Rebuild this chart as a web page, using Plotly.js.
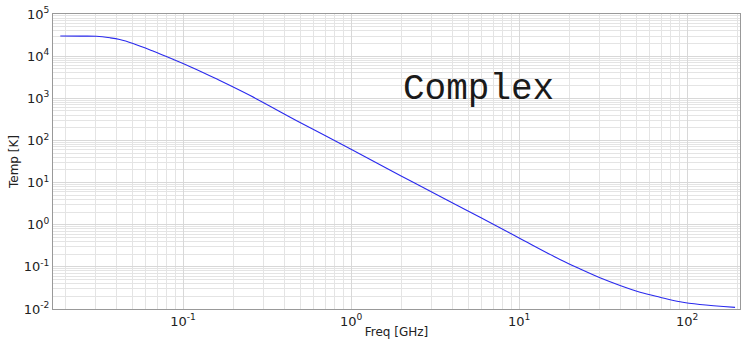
<!DOCTYPE html>
<html>
<head>
<meta charset="utf-8">
<script src="https://cdn.plot.ly/plotly-3.0.1.min.js"></script>
<style>html,body{margin:0;padding:0;background:#fff;}#chart{width:741px;height:340px;}</style>
</head>
<body>
<div id="chart"></div>
<script>
var freq = [0.0186, 0.0245, 0.0305, 0.0368, 0.042, 0.0504, 0.0662, 0.0871, 0.1148, 0.159, 0.251, 0.497, 1.0, 1.96, 3.72, 5.86, 10, 17.5, 23.1, 30.3, 39.9, 52.5, 69, 90.8, 119, 193];
var temp = [30000, 29900, 29600, 27200, 24800, 19950, 13200, 8410, 5250, 2850, 1160, 267, 62, 14.8, 3.87, 1.50, 0.485, 0.150, 0.089, 0.0551, 0.0362, 0.0251, 0.0191, 0.0149, 0.0128, 0.0109];
var xTickVals = [0.1, 1, 10, 100];
var xTickText = ['10<sup>-1</sup>', '10<sup>0</sup>', '10<sup>1</sup>', '10<sup>2</sup>'];
var yTickVals = [0.01, 0.1, 1, 10, 100, 1000, 10000, 100000];
var yTickText = ['10<sup>-2</sup>', '10<sup>-1</sup>', '10<sup>0</sup>', '10<sup>1</sup>', '10<sup>2</sup>', '10<sup>3</sup>', '10<sup>4</sup>', '10<sup>5</sup>'];
var labelText = 'Complex';

var trace = {
  x: freq, y: temp, type: 'scatter', mode: 'lines',
  line: {color: '#2a2aee', width: 1.1, shape: 'spline', smoothing: 1},
  hoverinfo: 'none'
};
var layout = {
  width: 741, height: 340,
  margin: {l: 53, r: 1, t: 14, b: 31},
  paper_bgcolor: '#fff', plot_bgcolor: '#fff',
  showlegend: false,
  font: {family: 'DejaVu Sans', size: 13, color: '#222'},
  xaxis: {
    type: 'log', range: [-1.774, 2.315],
    tickvals: xTickVals, ticktext: xTickText,
    showline: true, linecolor: '#999', linewidth: 1, mirror: true,
    showgrid: true, gridcolor: '#d8d8d8', gridwidth: 1,
    minor: {dtick: 'D1', showgrid: true, gridcolor: '#e4e4e4', gridwidth: 1, ticks: ''},
    ticks: '', zeroline: false,
    tickfont: {family: 'DejaVu Sans', size: 13, color: '#222'},
    title: {text: 'Freq [GHz]', font: {family: 'DejaVu Sans', size: 12, color: '#222'}, standoff: 0}
  },
  yaxis: {
    type: 'log', range: [-2, 5],
    tickvals: yTickVals, ticktext: yTickText,
    showline: true, linecolor: '#999', linewidth: 1, mirror: true,
    showgrid: true, gridcolor: '#d8d8d8', gridwidth: 1,
    minor: {dtick: 'D1', showgrid: true, gridcolor: '#e4e4e4', gridwidth: 1, ticks: ''},
    ticks: '', zeroline: false,
    tickfont: {family: 'DejaVu Sans', size: 13, color: '#222'},
    title: {text: 'Temp [K]', font: {family: 'DejaVu Sans', size: 12, color: '#222'}, standoff: 2}
  },
  annotations: [{
    text: labelText, xref: 'paper', yref: 'paper',
    x: 0.619, y: 0.745, xanchor: 'center', yanchor: 'middle',
    showarrow: false,
    font: {family: 'Courier New, Liberation Mono, monospace', size: 36, color: '#1a1a1a'}
  }]
};
Plotly.newPlot('chart', [trace], layout, {displayModeBar: false, staticPlot: true});
</script>
</body>
</html>
